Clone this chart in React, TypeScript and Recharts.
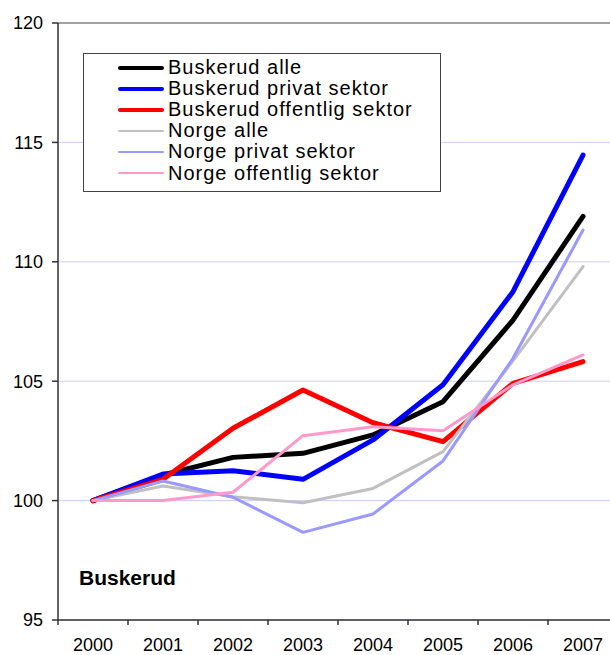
import React from "react";
import {
  LineChart,
  Line,
  XAxis,
  YAxis,
  CartesianGrid,
  ReferenceLine,
} from "recharts";

const years = ["2000", "2001", "2002", "2003", "2004", "2005", "2006", "2007"];
const yTicks = [95, 100, 105, 110, 115, 120];

const buskerudAlle = [100, 101.07, 101.81, 101.98, 102.75, 104.14, 107.56, 111.9];
const buskerudPrivat = [100, 101.11, 101.25, 100.89, 102.54, 104.85, 108.75, 114.47];
const buskerudOffentlig = [100, 100.89, 103.03, 104.63, 103.26, 102.47, 104.91, 105.82];
const norgeAlle = [100, 100.61, 100.16, 99.91, 100.51, 102.05, 105.85, 109.8];
const norgePrivat = [100, 100.82, 100.14, 98.67, 99.44, 101.66, 105.96, 111.33];
const norgeOffentlig = [100, 100.0, 100.35, 102.72, 103.09, 102.93, 104.85, 106.1];

const series = [
  { key: "Buskerud alle", values: buskerudAlle, color: "#000000", width: 5 },
  { key: "Buskerud privat sektor", values: buskerudPrivat, color: "#0000ff", width: 5 },
  { key: "Buskerud offentlig sektor", values: buskerudOffentlig, color: "#ff0000", width: 5 },
  { key: "Norge alle", values: norgeAlle, color: "#c0c0c0", width: 3 },
  { key: "Norge privat sektor", values: norgePrivat, color: "#9999ff", width: 3 },
  { key: "Norge offentlig sektor", values: norgeOffentlig, color: "#ff99cc", width: 3 },
];

const data = years.map((year, i) => {
  const row: Record<string, string | number> = { year };
  series.forEach((s) => {
    row[s.key] = s.values[i];
  });
  return row;
});

const FONT = "'Liberation Sans', Arial, sans-serif";
const BAND = 70;
const AXIS_Y = 620;

function YearTick(props: any) {
  const { x, payload } = props;
  return (
    <g>
      <line x1={x - BAND / 2} x2={x - BAND / 2} y1={AXIS_Y} y2={AXIS_Y + 5} stroke="#333" strokeWidth={1.5} />
      <text x={x} y={AXIS_Y + 31} textAnchor="middle" fontSize={18} fill="#000" fontFamily={FONT}>
        {payload.value}
      </text>
    </g>
  );
}

function ChartLegend() {
  return (
    <div
      style={{
        position: "absolute",
        left: 83,
        top: 53,
        width: 358,
        height: 139,
        border: "1.5px solid #444",
        background: "#fff",
        fontFamily: FONT,
        fontSize: 20,
        letterSpacing: 1,
        boxSizing: "border-box",
      }}
    >
      {series.map((s, i) => (
        <div
          key={s.key}
          style={{
            position: "absolute",
            left: 34,
            top: 3 + i * 21.1,
            height: 21,
            display: "flex",
            alignItems: "center",
            whiteSpace: "nowrap",
          }}
        >
          <span
            style={{
              display: "inline-block",
              width: 46,
              height: s.width - 1,
              background: s.color,
              borderRadius: 2,
              marginRight: 4,
            }}
          />
          <span style={{ color: "#000", lineHeight: "21px" }}>{s.key}</span>
        </div>
      ))}
    </div>
  );
}

export default function App() {
  return (
    <div
      style={{
        position: "fixed",
        left: 0,
        top: 0,
        width: 610,
        height: 655,
        overflow: "hidden",
        background: "#fff",
      }}
    >
      <LineChart
        width={625}
        height={655}
        data={data}
        margin={{ top: 23, right: 7, bottom: 0, left: 0 }}
      >
        <CartesianGrid vertical={false} stroke="#ccccff" strokeWidth={1} />
        <ReferenceLine y={120} stroke="#888" strokeWidth={1.5} />
        <XAxis
          dataKey="year"
          scale="band"
          interval={0}
          axisLine={{ stroke: "#333", strokeWidth: 1.5 }}
          tickLine={false}
          tick={<YearTick />}
          height={35}
        />
        <YAxis
          domain={[95, 120]}
          ticks={yTicks}
          interval={0}
          width={58}
          axisLine={{ stroke: "#333", strokeWidth: 1.5 }}
          tickLine={{ stroke: "#333", strokeWidth: 1.5 }}
          tickSize={6}
          tickMargin={9}
          tick={{ fontSize: 18, fill: "#000", fontFamily: FONT }}
        />
        {series.map((s) => (
          <Line
            key={s.key}
            dataKey={s.key}
            stroke={s.color}
            strokeWidth={s.width}
            dot={false}
            activeDot={false}
            strokeLinejoin="round"
            strokeLinecap="round"
            isAnimationActive={false}
          />
        ))}
      </LineChart>
      <ChartLegend />
      <div
        style={{
          position: "absolute",
          left: 79,
          top: 566,
          fontFamily: FONT,
          fontWeight: "bold",
          fontSize: 21,
          color: "#000",
        }}
      >
        Buskerud
      </div>
    </div>
  );
}
